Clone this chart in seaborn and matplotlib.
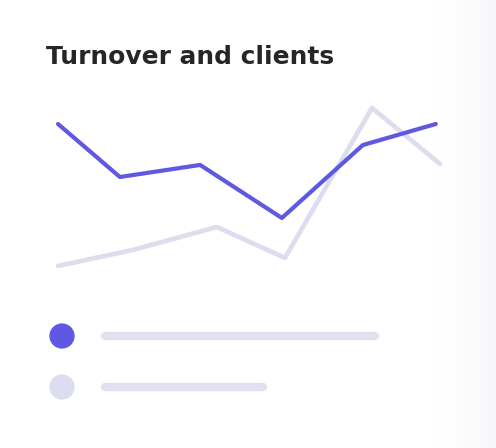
"""Turnover and clients card chart."""

import numpy as np
import pandas as pd
import seaborn as sns
from matplotlib import pyplot as plt

# Series values (x position along period 0-100, y value 0-100)
turnover_x = [0, 16.2, 37.2, 58.6, 79.8, 98.9]
turnover_y = [85.9, 54.7, 61.8, 30.6, 73.5, 85.9]
clients_x = [0, 19.6, 41.6, 59.4, 82.2, 100]
clients_y = [2.4, 11.8, 25.3, 7.1, 95.3, 62.4]

series_names = ["Turnover", "Clients"]
# placeholder legend label lengths (in px)
placeholder_lengths = [278, 166]

PURPLE = "#5f58e2"
LAVENDER = "#dcdef0"
BAR = "#e1e1f1"

df = pd.concat(
    [
        pd.DataFrame({"x": turnover_x, "y": turnover_y, "series": "Turnover"}),
        pd.DataFrame({"x": clients_x, "y": clients_y, "series": "Clients"}),
    ]
)

sns.set_theme(style="white")
plt.rcParams["font.family"] = ["DejaVu Sans"]

W, H = 496, 448
fig = plt.figure(figsize=(W / 100, H / 100), dpi=100)
fig.patch.set_facecolor("white")

# background with soft shadow on the right edge
bg = fig.add_axes([0, 0, 1, 1], zorder=0)
grad = np.ones((2, W, 3))
xs = np.arange(W)
shade = np.clip((xs - 435) / (W - 435), 0, 1) ** 1.5 * 0.035
grad[:, :, 0] -= shade
grad[:, :, 1] -= shade
grad[:, :, 2] -= shade * 0.7
bg.imshow(grad, extent=(0, W, H, 0), aspect="auto")
bg.set_xlim(0, W)
bg.set_ylim(H, 0)
bg.axis("off")

# title
bg.text(46, 64, "Turnover and clients", fontsize=17.9, fontweight="bold",
        color="#262626", ha="left", va="baseline")

# legend placeholders
for i, (name, length) in enumerate(zip(series_names, placeholder_lengths)):
    cy = 336 + i * 51
    color = PURPLE if name == "Turnover" else LAVENDER
    bg.scatter([62], [cy], s=330, color=color, edgecolor="none", zorder=3)
    bg.plot([105, 105 + length - 8], [cy, cy], color=BAR, lw=6,
            solid_capstyle="round", zorder=3)

# main line chart
ax = fig.add_axes([58 / W, (H - 270) / H, (440 - 58) / W, 170 / H], zorder=1)
ax.patch.set_alpha(0)
sns.lineplot(
    data=df,
    x="x",
    y="y",
    hue="series",
    hue_order=["Clients", "Turnover"],
    palette={"Turnover": PURPLE, "Clients": LAVENDER},
    size="series",
    sizes={"Turnover": 3.0, "Clients": 3.4},
    sort=False,
    legend=False,
    ax=ax,
)
for line in ax.get_lines():
    line.set_solid_joinstyle("round")
    line.set_solid_capstyle("round")
    line.set_clip_on(False)
ax.set_xlim(0, 100)
ax.set_ylim(0, 100)
ax.axis("off")

fig.savefig("out.png", dpi=100)
